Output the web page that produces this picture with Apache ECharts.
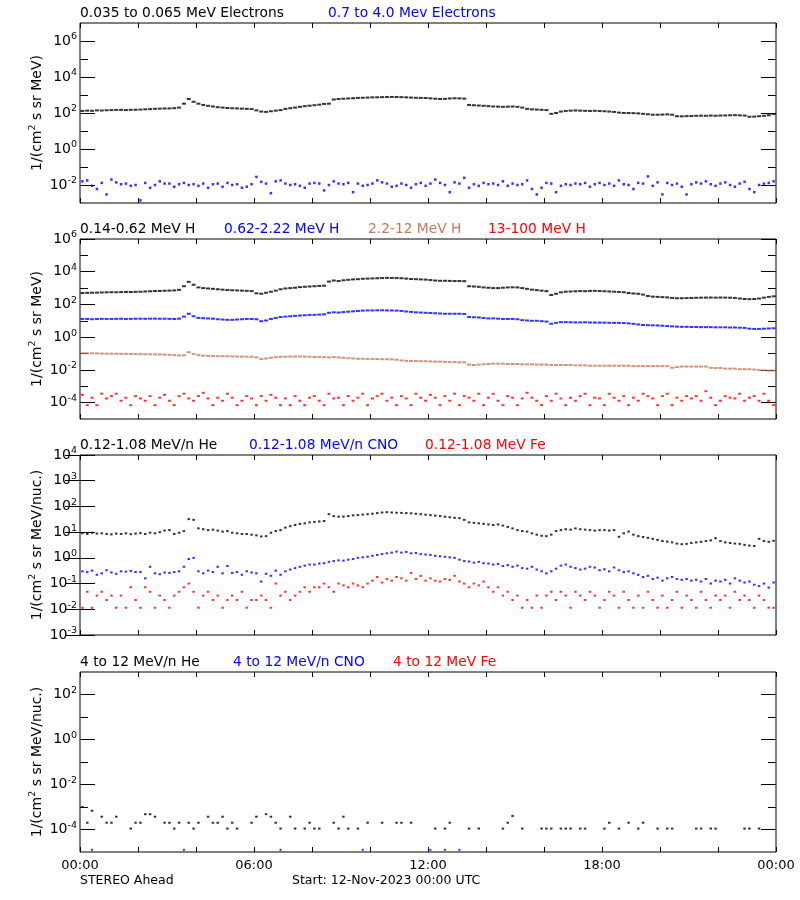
<!DOCTYPE html>
<html><head><meta charset="utf-8">
<script src="https://cdn.jsdelivr.net/npm/echarts@6/dist/echarts.min.js"></script>
<style>html,body{margin:0;padding:0;background:#fff}#c{width:800px;height:900px}</style>
</head><body><div id="c"></div>
<script>
// 10-minute cadence, 144 samples per day (hours 0..24)
const CADENCE_H = 1 / 6;

// Panel 1: electrons
const elecLow = [
130,135,132,140,138,142, 145,148,150,146,150,152, 155,160,165,170,175,178, 180,185,200,330,600,420,
330,280,250,230,210,200, 190,185,180,175,170,165, 140,120,115,125,135,145, 170,185,200,220,240,255,
270,290,320,330,560,600, 620,640,660,690,700,720, 740,750,760,770,780,770, 760,740,720,700,690,680,
650,620,600,610,640,660, 650,630,280,270,260,250, 240,230,225,220,225,230, 220,200,170,160,155,150,
145,90,100,120,130,135, 138,135,132,130,133,128, 125,120,115,105,100,100, 98,95,90,85,80,80,
82,84,80,66,65,67, 68,70,71,70,72,70, 72,73,75,76,74,72, 62,63,66,70,75,88];
const elecHigh = [
.016,.018,.009,.006,.013,.003, .02,.014,.011,.012,.009,.010, .0014,.013,.007,.010,.016,.012, .012,.008,.011,.013,.010,.011,
.009,.012,.007,.011,.012,.008, .013,.010,.011,.007,.008,.011, .028,.015,.012,.0035,.016,.018, .012,.010,.011,.009,.007,.012,
.013,.012,.005,.010,.016,.012, .011,.013,.004,.012,.009,.010, .012,.018,.014,.012,.008,.009, .012,.010,.007,.011,.013,.009,
.012,.020,.013,.010,.004,.014, .012,.025,.007,.011,.009,.013, .011,.012,.010,.016,.009,.012, .010,.011,.018,.006,.003,.007,
.013,.012,.004,.009,.011,.010, .012,.011,.013,.008,.011,.013, .010,.012,.009,.018,.011,.010, .006,.013,.012,.030,.009,.014,
.003,.013,.010,.012,.008,.003, .011,.014,.012,.016,.011,.009, .012,.014,.010,.008,.012,.015, .006,.004,.010,.012,.013,.016];

// Panel 2: protons
const hLow = [
500,510,520,530,540,550, 560,555,570,580,575,590, 600,620,640,660,670,690, 700,720,780,1300,2400,1600,
1100,1000,950,900,850,800, 760,740,720,700,680,660, 480,450,520,600,700,850, 950,1000,1050,1150,1200,1250,
1300,1350,1400,2500,2900,2700, 3000,3200,3400,3500,3700,3800, 3900,4000,4100,4200,4150,4100, 4000,3800,3600,3500,3400,3300,
3100,2900,2800,2800,2750,2700, 2700,2650,1300,1250,1200,1100, 1050,1000,1000,1050,1100,1120, 1100,1000,900,800,750,700,
650,380,450,550,600,620, 640,660,650,670,680,660, 640,620,600,580,560,500, 470,450,400,330,300,290,
280,270,250,240,240,245, 250,255,260,262,265,260, 265,262,258,250,230,215, 210,215,230,260,290,315];
const hMid = [
13,13,12.5,13,13.2,13, 13,13.2,13.4,13,13.2,13.4, 13.5,13.3,13.5,13.6,13.4,13.5, 13.2,13,13.5,18,27,19,
15,14.5,14,13.5,12.5,12, 11.5,11.5,12,12.5,13,13, 12.5,9.5,10.5,13,15,17, 18,19,20,21,22,23,
23,24,25,31,33,32, 34,36,38,40,42,43, 43,44,44,43,43,42, 40,37,35,33,32,31,
30,29,28,27,27,27, 27,26,17,16.5,16,15, 14,14,13.5,13,13,13, 12.5,11,10.5,10,10,9.5,
9,6.6,7.5,8.3,8.3,8.2, 8,8,8.1,7.9,7.8,7.8, 7.7,7.6,7.5,7.5,7.3,7, 6.5,6,5.6,5.4,5.3,5.2,
5,4.8,4.6,4.4,4.3,4.3, 4.2,4.2,4.1,4.1,4.1,4, 4,4,3.9,3.9,3.8,3.7, 3.3,3.2,3.2,3.3,3.4,3.5];
const hHigh = [
.105,.104,.103,.102,.100,.098, .098,.097,.096,.095,.094,.093, .092,.091,.090,.089,.088,.086, .084,.080,.076,.078,.120,.095,
.080,.075,.072,.070,.069,.068, .068,.067,.066,.065,.064,.063, .058,.046,.050,.055,.060,.063, .064,.065,.066,.066,.065,.064,
.062,.062,.060,.058,.060,.058, .055,.052,.050,.048,.048,.047, .046,.046,.045,.045,.044,.042, .038,.036,.035,.035,.034,.034,
.033,.032,.032,.031,.030,.030, .029,.029,.021,.020,.021,.022, .023,.024,.024,.024,.023,.023, .023,.022,.022,.022,.021,.021,
.021,.020,.020,.020,.020,.020, .019,.019,.019,.018,.018,.018, .018,.018,.018,.018,.018,.018, .017,.017,.017,.017,.017,.017,
.017,.017,.0135,.015,.016,.016, .016,.016,.016,.016,.0135,.013, .013,.012,.012,.012,.011,.011, .011,.0105,.010,.0095,.009,.009];
const hTop = [
3e-4,7e-5,2e-4,7e-5,3.5e-4,1.8e-4, 2.5e-4,3.5e-4,1.3e-4,2e-4,7e-5,2.5e-4, 1.8e-4,1.3e-4,2.5e-4,7e-5,2e-4,3e-4, 1.3e-4,7e-5,2.5e-4,3.5e-4,1.8e-4,1.3e-4,
2.5e-4,4e-4,1.8e-4,7e-5,2e-4,1.3e-4, 3.5e-4,2e-4,7e-5,1.3e-4,2.5e-4,1.8e-4, 7e-5,2.5e-4,1.3e-4,3e-4,2e-4,7e-5, 1.8e-4,7e-5,2.5e-4,1.3e-4,7e-5,2e-4,
2.5e-4,1.3e-4,7e-5,3.5e-4,1.8e-4,2e-4, 7e-5,2.5e-4,1.3e-4,2e-4,3.5e-4,7e-5, 1.8e-4,2.5e-4,3.5e-4,1.3e-4,2e-4,7e-5, 2.5e-4,1.8e-4,7e-5,3.5e-4,2e-4,1.3e-4,
3e-4,2e-4,7e-5,2.5e-4,1.3e-4,3.5e-4, 7e-5,2.5e-4,2e-4,1.3e-4,3.5e-4,7e-5, 2e-4,3.5e-4,1.3e-4,7e-5,2.5e-4,2e-4, 7e-5,1.8e-4,4e-4,2e-4,1.3e-4,7e-5,
2.5e-4,1.3e-4,3.5e-4,1.8e-4,7e-5,2e-4, 1.3e-4,2.5e-4,3.5e-4,7e-5,2e-4,1.8e-4, 7e-5,3.5e-4,2e-4,1.3e-4,2.5e-4,7e-5, 2e-4,1.3e-4,3.5e-4,2.5e-4,1.8e-4,7e-5,
2.5e-4,3.5e-4,7e-5,2e-4,1.3e-4,2.5e-4, 1.8e-4,2.5e-4,1.3e-4,5e-4,2e-4,7e-5, 1.3e-4,2.5e-4,2e-4,1.8e-4,3.5e-4,1.3e-4, 2e-4,2.5e-4,1.3e-4,3.5e-4,1.3e-4,7e-5];

// Panel 3: 0.12-1.08 MeV/n ions
const heLow = [
9,8.5,9.5,8.8,9,8.5, 8.2,8.8,8.5,9,8.3,8.8, 9.2,8.5,9.5,9,10,11.5, 12,8.5,9.5,11,32,30,
14,13,12,12.5,11.5,10.5, 11,9.5,9,8.5,8.5,8, 7.5,6.8,7,9.5,11,12, 15,17,19,21,22,24,
25,26,27,50,42,40, 40,42,45,46,48,50, 52,55,58,60,58,57, 56,55,54,52,50,48,
46,44,42,40,38,36, 35,30,24,23,22,21, 20,19,20,18,16,14, 12,11,10.5,9,8,7.2,
7,8,11,12,13,12.5, 14,13,12.5,12,11.5,12, 12,11.5,12,6.6,9,10.5, 8,7,6.5,6,5.5,5,
4.5,4.3,4,3.6,3.4,3.5, 3.8,4,4.2,4.5,4.8,5.8, 4.5,4,3.8,3.6,3.5,3.2, 3,2.9,5.5,4.5,4.2,4.6];
const cnoLow = [
.30,.28,.32,.22,.25,.33, .27,.24,.30,.29,.31,.28, .28,.16,.45,.25,.23,.27, .26,.28,.30,.45,.90,1.0,
.30,.25,.32,.28,.45,.25, .48,.26,.28,.22,.30,.27, .25,.12,.24,.20,.32,.22, .30,.35,.40,.45,.50,.55,
.55,.60,.62,.70,.75,.80, .78,.85,.90,1.0,1.05,1.1, 1.2,1.3,1.4,1.5,1.6,1.75, 1.6,1.7,1.5,1.55,1.4,1.35,
1.3,1.2,1.15,1.1,1.05,1.0, .85,.75,.72,.65,.70,.62, .60,.55,.58,.48,.52,.45, .50,.40,.38,.45,.35,.30,
.25,.30,.38,.50,.55,.45, .40,.35,.38,.45,.42,.33, .36,.30,.42,.33,.28,.30, .25,.22,.18,.20,.15,.17,
.13,.16,.18,.15,.14,.15, .13,.14,.12,.15,.10,.13, .12,.14,.10,.16,.13,.11, .12,.09,.08,.10,.07,.11];
const feLow = [
.0115,.048,.0115,.034,.048,.023, .034,.0115,.034,.0115,.072,.023, .0115,.072,.048,.0115,.034,.023, .0115,.034,.048,.072,.10,.048,
.0115,.034,.048,.023,.034,.0115, .023,.034,.023,.048,.0115,.023, .023,.034,.023,.0115,.10,.034, .048,.023,.034,.048,.072,.048,
.072,.072,.10,.072,.048,.10, .085,.072,.10,.085,.072,.10, .13,.18,.11,.15,.13,.18, .16,.13,.26,.15,.20,.13,
.16,.13,.12,.15,.14,.20, .12,.10,.072,.10,.085,.12, .072,.048,.072,.034,.048,.023, .034,.0115,.023,.0115,.034,.0115,
.034,.048,.023,.048,.034,.0115, .048,.034,.023,.048,.034,.0115, .023,.048,.034,.0115,.048,.023, .0115,.034,.0115,.048,.023,.0115,
.034,.0115,.023,.048,.0115,.034, .023,.0115,.048,.023,.0115,.034, .023,.034,.0115,.048,.023,.034, .023,.0115,.034,.023,.0115,.0115];

// Panel 4: 4-12 MeV/n ions (sparse: 10-minute slot index + value)
const he4Slots = [0,1,2,4,5,6,7,10,11,12,13,14,15,17,18,19,20,22,23,24,26,27,28,29,30,31,32,35,36,38,39,40,41,43,44,46,47,48,49,52,53,54,55,57,59,62,65,66,68,73,75,76,80,82,87,88,89,91,95,96,97,99,100,101,103,104,108,109,111,113,115,116,119,121,122,127,128,130,131,137,138,140];
const he4Vals = [1e-3,2e-4,6.8e-4,3.7e-4,2e-4,2e-4,3.7e-4,1.1e-4,2e-4,2e-4,4.8e-4,4.8e-4,3.7e-4,2e-4,2e-4,1.1e-4,2e-4,2e-4,1.1e-4,2e-4,3.7e-4,2e-4,2e-4,3.7e-4,1.1e-4,2e-4,1.1e-4,2e-4,3.7e-4,4.8e-4,3.7e-4,2e-4,1.1e-4,3.7e-4,1.1e-4,1.1e-4,2e-4,1.1e-4,1.1e-4,2e-4,1.1e-4,3.7e-4,1.1e-4,1.1e-4,2e-4,2e-4,2e-4,2e-4,2e-4,1.1e-4,1.1e-4,2e-4,1.1e-4,1.1e-4,1.1e-4,2e-4,4e-4,1.1e-4,1.1e-4,1.1e-4,1.1e-4,1.1e-4,1.1e-4,1.1e-4,1.1e-4,1.1e-4,1.1e-4,2e-4,1.1e-4,2e-4,1.1e-4,2e-4,1.1e-4,1.1e-4,1.1e-4,1.1e-4,1.1e-4,1.1e-4,1.1e-4,1.1e-4,1.1e-4,1.1e-4];
const cno4Slots = [2,21,41,58,72,75,78];
const cno4Vals = [1.25e-5,1.25e-5,1.25e-5,1.25e-5,1.25e-5,1.25e-5,1.25e-5];

// Panel titles
const titles1 = ['0.035 to 0.065 MeV Electrons', '0.7 to 4.0 Mev Electrons'];
const titles2 = ['0.14-0.62 MeV H', '0.62-2.22 MeV H', '2.2-12 MeV H', '13-100 MeV H'];
const titles3 = ['0.12-1.08 MeV/n He', '0.12-1.08 MeV/n CNO', '0.12-1.08 MeV Fe'];
const titles4 = ['4 to 12 MeV/n He', '4 to 12 MeV/n CNO', '4 to 12 MeV Fe'];
const xTickHours = [0, 6, 12, 18, 24];

// ---------- rendering ----------
const FONT = '"DejaVu Sans", sans-serif';
const BLACK = '#000000', BLUE = '#0000ff', SIENNA = '#c8785a', RED = '#ff0000';
const GL = 80, GW = 696, GH = 180;
const tops = [23, 239, 455, 672];

function series(arr) {
  const out = [];
  arr.forEach((v, i) => { if (v != null) out.push([(i + 0.5) * CADENCE_H, v]); });
  return out;
}
function sparse(slots, vals) {
  return slots.map((s, i) => [(s + 0.5) * CADENCE_H, vals[i]]);
}
const RICH = {
  b: {fontFamily: FONT, fontSize: 14, color: '#000', lineHeight: 18, verticalAlign: 'middle'},
  e: {fontFamily: FONT, fontSize: 9.5, color: '#000', lineHeight: 10, verticalAlign: 'top'}
};
function expLabel(v) { return '{b|10}{e|' + Math.round(Math.log10(v)) + '}'; }

const yDefs = [
  {min: 1e-3, max: 1e7, major: [1e-2, 1, 1e2, 1e4, 1e6], minor: [1e-1, 1e1, 1e3, 1e5]},
  {min: 1e-5, max: 1e6, major: [1e-4, 1e-2, 1, 1e2, 1e4, 1e6], minor: [1e-3, 1e-1, 1e1, 1e3, 1e5]},
  {min: 1e-3, max: 1e4, major: [1e-3, 1e-2, 1e-1, 1, 1e1, 1e2, 1e3, 1e4], minor: []},
  {min: 1e-5, max: 1e3, major: [1e-4, 1e-2, 1, 1e2], minor: [1e-3, 1e-1, 1e1]}
];

const grids = [], xAxes = [], yAxes = [], yMain = [];
tops.forEach((t, k) => {
  grids.push({left: GL, width: GW, top: t, height: GH, show: true, borderColor: '#000', borderWidth: 1, backgroundColor: 'transparent'});
  const xb = {gridIndex: k, type: 'value', min: 0, max: 24, interval: 2,
    axisLine: {show: false}, splitLine: {show: false},
    axisTick: {show: true, inside: true, length: 5, lineStyle: {color: '#000', width: 1}}};
  xAxes.push(Object.assign({}, xb, {position: 'bottom',
    axisLabel: k === 3 ? {show: true, customValues: xTickHours, margin: 7, color: '#000', fontFamily: FONT, fontSize: 13,
      formatter: v => String(v % 24).padStart(2, '0') + ':00'} : {show: false}}));
  xAxes.push(Object.assign({}, xb, {position: 'top', axisLabel: {show: false}}));
  const d = yDefs[k];
  const base = {gridIndex: k, type: 'log', logBase: 10, min: d.min, max: d.max,
    axisLine: {show: false}, splitLine: {show: false}, minorTick: {show: false}};
  yMain.push(yAxes.length);
  ['left', 'right'].forEach(pos => {
    yAxes.push(Object.assign({}, base, {position: pos,
      axisTick: {show: true, inside: true, length: 15, customValues: d.major, lineStyle: {color: '#000', width: 1}},
      axisLabel: pos === 'left' ? {show: true, customValues: d.major, margin: 3, formatter: expLabel, rich: RICH,
        fontFamily: FONT, fontSize: 14, color: '#000', hideOverlap: false} : {show: false}}));
    if (d.minor.length) {
      yAxes.push(Object.assign({}, base, {position: pos,
        axisTick: {show: true, inside: true, length: 8, customValues: d.minor, lineStyle: {color: '#000', width: 1}},
        axisLabel: {show: false}}));
    }
  });
});

function sc(k, data, color, size) {
  return {type: 'scatter', xAxisIndex: 2 * k, yAxisIndex: yMain[k], data: data,
    symbol: 'rect', symbolSize: size, itemStyle: {color: color}, silent: true,
    emphasis: {disabled: true}, animation: false};
}
const S = [
  sc(0, series(elecLow), BLACK, [4, 2]),
  sc(0, series(elecHigh), BLUE, [2.5, 2.5]),
  sc(1, series(hLow), BLACK, [4, 2]),
  sc(1, series(hMid), BLUE, [4, 2]),
  sc(1, series(hHigh), SIENNA, [4, 2]),
  sc(1, series(hTop), RED, [3, 2]),
  sc(2, series(heLow), BLACK, [2.5, 2]),
  sc(2, series(cnoLow), BLUE, [2.5, 2]),
  sc(2, series(feLow), RED, [2.5, 2]),
  sc(3, sparse(he4Slots, he4Vals), BLACK, [2.5, 2]),
  sc(3, sparse(cno4Slots, cno4Vals), BLUE, [2, 2])
];

function txt(str, x, y, color, size) {
  return {type: 'text', x: x, y: y, silent: true,
    style: {text: str, fill: color, font: size + 'px ' + FONT, textAlign: 'left', textVerticalAlign: 'middle'}};
}
const TS = 13.8;
const G = [
  txt(titles1[0], 80, 13, BLACK, TS), txt(titles1[1], 328, 13, BLUE, TS),
  txt(titles2[0], 80, 229, BLACK, TS), txt(titles2[1], 224, 229, BLUE, TS), txt(titles2[2], 368, 229, SIENNA, TS), txt(titles2[3], 488, 229, RED, TS),
  txt(titles3[0], 80, 445, BLACK, TS), txt(titles3[1], 249, 445, BLUE, TS), txt(titles3[2], 425, 445, RED, TS),
  txt(titles4[0], 80, 662, BLACK, TS), txt(titles4[1], 233, 662, BLUE, TS), txt(titles4[2], 393, 662, RED, TS),
  txt('STEREO Ahead', 80, 881, BLACK, 12.5),
  txt('Start: 12-Nov-2023 00:00 UTC', 292, 881, BLACK, 12.5)
];
const yUnits = ['MeV)', 'MeV)', 'MeV/nuc.)', 'MeV/nuc.)'];
tops.forEach((t, k) => {
  G.push({type: 'text', x: 37, y: t + GH / 2, rotation: Math.PI / 2, silent: true,
    style: {text: '{b|1/(cm}{e|2}{b| s sr ' + yUnits[k] + '}', textAlign: 'center', textVerticalAlign: 'middle',
      rich: RICH}});
});

const chart = echarts.init(document.getElementById('c'), null, {renderer: 'canvas'});
chart.setOption({
  animation: false,
  backgroundColor: '#ffffff',
  grid: grids, xAxis: xAxes, yAxis: yAxes, series: S, graphic: G
});
</script>
</body></html>
